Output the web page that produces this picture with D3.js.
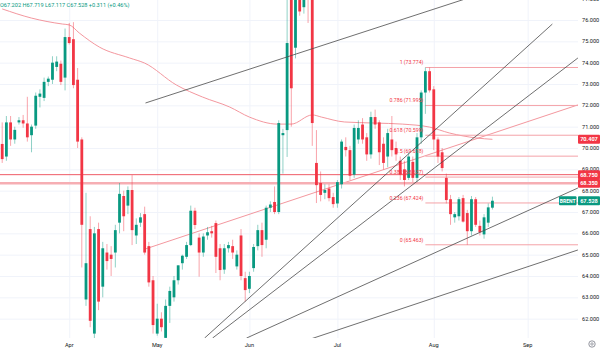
<!DOCTYPE html>
<html>
<head>
<meta charset="utf-8">
<script src="https://cdn.jsdelivr.net/npm/d3@7"></script>
<style>
  body { margin: 0; background: #fff; }
  svg { display: block; font-family: Roboto, "Noto Sans", sans-serif; }
</style>
</head>
<body>
<svg id="chart" width="600" height="352"></svg>
<script>
// daily OHLC, Brent, from the start of the visible window to the last bar
const opens = [70.19,69.6,71.2,70.4,71.2,71.3,71.15,70.6,71.05,72.4,72.35,73.1,73.2,73.8,73.95,73.3,75.2,75.1,73.2,70.4,
  62.9,66.2,61.3,66.2,63.5,65.1,65.0,65.1,66.5,67.75,67.3,68.03,65.9,66.5,66.9,65.4,63.8,61.3,62.0,61.1,
  62.6,63.0,63.8,64.6,64.9,65.45,67.06,65.8,65.1,65.9,66.1,66.48,65.3,64.3,65.3,65.4,64.45,65.9,63.9,63.4,
  64.37,65.4,66.15,65.7,67.2,67.47,67.0,70.6,70.84,77.2,74.7,78.3,76.6,78.8,78.5,69.3,68.36,67.9,68.1,67.7,
  67.4,68.3,70.05,69.9,68.75,70.4,71.1,70.5,69.7,71.45,71.2,70.2,69.6,70.4,70.0,69.4,69.0,68.6,69.35,68.6,
  70.5,72.6,73.6,72.75,70.4,69.8,68.6,67.6,66.75,66.8,67.65,66.95,66.1,67.6,66.35,65.95,66.5,67.202];
const highs = [71.2,71.5,71.5,71.0,71.45,71.55,72.4,71.1,72.6,72.75,73.3,73.35,74.3,74.3,74.1,75.6,75.86,75.9,73.75,70.5,
  67.9,66.8,66.3,66.5,65.6,65.5,65.4,66.4,68.36,68.0,68.2,68.73,66.7,66.95,67.25,65.6,64.0,62.7,62.3,62.9,
  63.5,64.0,64.5,65.0,65.6,67.3,67.2,66.0,66.0,66.3,66.35,66.6,65.5,65.5,65.6,65.7,65.2,66.2,64.2,64.2,
  65.5,66.4,66.5,67.3,67.5,68.2,71.3,70.9,78.0,78.2,78.3,79.0,79.2,80.0,80.5,70.84,68.9,68.3,68.3,67.9,
  68.5,70.4,70.5,70.1,71.1,71.3,71.4,70.7,71.7,71.8,71.3,70.5,70.9,71.5,70.3,69.6,69.4,69.8,69.6,70.7,
  72.7,73.774,73.77,72.9,70.5,70.0,68.8,67.8,67.0,67.7,67.8,67.1,67.75,67.7,66.6,66.9,67.4,67.719];
const lows = [69.3,69.4,70.1,70.2,71.1,70.95,70.3,69.8,70.9,71.9,72.2,72.9,73.0,73.6,72.95,72.7,74.85,72.8,70.0,64.4,
  62.6,61.6,61.0,62.4,63.0,64.3,64.0,64.4,66.0,66.1,66.9,65.45,65.5,66.3,65.0,63.5,61.3,61.2,61.4,61.0,
  61.8,62.8,63.6,64.3,64.8,65.4,66.2,63.97,64.9,65.7,65.8,64.14,63.8,64.1,65.1,64.8,64.3,63.8,62.8,63.2,
  64.2,65.2,64.9,65.3,67.0,66.9,66.9,68.8,69.58,71.0,74.2,76.2,76.3,75.86,70.1,67.42,67.5,67.6,67.5,67.2,
  67.2,68.1,69.6,68.5,68.6,70.2,70.2,69.4,69.5,70.9,69.2,69.0,69.1,69.6,69.4,68.5,68.2,68.5,68.4,68.4,
  70.2,71.6,72.6,69.9,69.3,68.9,67.4,66.4,66.5,66.6,66.5,65.463,65.9,66.3,65.9,65.75,66.3,67.117];
const closes = [69.48,71.2,70.4,70.85,71.3,71.15,70.5,71.0,72.45,72.55,73.1,73.25,74.0,74.05,73.1,75.2,74.92,72.95,70.3,66.4,
  64.6,61.9,66.0,62.8,65.3,64.7,64.8,66.15,67.85,66.8,68.03,66.15,66.4,66.75,65.1,63.7,61.7,62.0,61.6,62.6,
  63.3,63.8,64.5,64.95,65.45,67.06,66.39,65.1,65.85,66.05,66.0,64.9,64.28,65.3,65.45,65.1,65.0,64.0,63.34,64.0,
  65.36,66.15,65.45,67.2,67.35,67.0,71.17,70.7,74.92,72.8,77.6,76.4,78.3,78.5,71.17,68.26,67.8,68.03,67.65,67.37,
  68.4,70.3,69.9,68.7,70.94,70.94,70.4,69.7,71.45,71.1,69.8,69.3,70.7,69.9,69.7,68.75,68.5,69.6,68.6,70.5,
  72.6,73.6,72.7,70.4,69.6,69.06,67.56,66.9,66.9,67.6,66.55,66.1,67.6,66.4,66.05,66.75,67.217,67.528];

const priceTicks = [62,63,64,65,66,67,68,69,70,71,72,73,74,75,76,77];
const monthNames = ["Apr","May","Jun","Jul","Aug","Sep"];
const monthBars = [16, 37, 59, 80, 103, 125.4];

// moving average, read at a few bars
const maBars = [0, 7, 14.4, 16, 18.4, 23.2, 30.4, 34, 41.6, 47.8, 54.3, 59, 65.7, 69, 74, 76.2, 81.7, 88.9, 95.5, 102, 106.8, 113.2, 117];
const maVals = [76.52, 76.09, 75.81, 75.77, 75.39, 74.73, 74.22, 73.98, 72.95, 72.39, 71.92, 71.45, 71.12, 71.12, 71.55, 71.45, 71.22, 71.17, 71.12, 70.98, 70.70, 70.47, 70.407];

// horizontal levels
const levelVals = [68.75, 68.35];

// fibonacci retracement
const fibRatios = ["1", "0.786", "0.618", "0.5", "0.382", "0.236", "0"];
const fibVals = [73.774, 71.995, 70.599, 69.618, 68.637, 67.424, 65.463];
const fibStartBar = 101;

// trend lines: [bar, price, bar, price]
const grayLines = [
  [34.2, 72.11, 110.4, 76.98],
  [48.3, 61.09, 131.3, 75.81],
  [50.2, 61.09, 137.4, 74.22],
  [58.3, 61.09, 137.4, 68.125],
  [72.9, 61.0, 137.4, 65.22]
];
const pinkLines = [[34.2, 65.27, 137.4, 72.02]];

const last = {o: 67.202, h: 67.719, l: 67.117, c: 67.528, chg: "+0.311", pct: "(+0.46%)"};

const UP = "#089981", DOWN = "#f23645";
const W = 600, H = 352, plotR = 578, plotB = 338;

const svg = d3.select("#chart");
const x = d3.scaleLinear().domain([0, 117]).range([2.2, 2.2 + 117 * 4.19]);
const y = d3.scaleLinear().domain([62, 76]).range([318.67, 20]);

svg.append("rect").attr("width", W).attr("height", H).attr("fill", "#fff");
svg.append("defs").append("clipPath").attr("id", "plot")
  .append("rect").attr("x", 0).attr("y", 0).attr("width", plotR).attr("height", plotB);

// grid
const grid = svg.append("g").attr("clip-path", "url(#plot)");
grid.selectAll("line.h").data(priceTicks).enter().append("line")
  .attr("x1", 0).attr("x2", plotR)
  .attr("y1", d => y(d) + 0.5).attr("y2", d => y(d) + 0.5)
  .attr("stroke", "#f0f3fa").attr("stroke-width", 1);
grid.selectAll("line.v").data(monthBars).enter().append("line")
  .attr("x1", d => x(d) + 0.5).attr("x2", d => x(d) + 0.5)
  .attr("y1", 0).attr("y2", plotB)
  .attr("stroke", "#f0f3fa").attr("stroke-width", 1);

const plot = svg.append("g").attr("clip-path", "url(#plot)");

// moving average
plot.append("path")
  .datum(maBars.map((b, i) => [b, maVals[i]]))
  .attr("fill", "none").attr("stroke", "#f28b93").attr("stroke-width", 0.9)
  .attr("d", d3.line().curve(d3.curveMonotoneX).x(d => x(d[0])).y(d => y(d[1])));

// pink trend line
plot.selectAll("line.pink").data(pinkLines).enter().append("line")
  .attr("x1", d => x(d[0])).attr("y1", d => y(d[1]))
  .attr("x2", d => x(d[2])).attr("y2", d => y(d[3]))
  .attr("stroke", "#f28b93").attr("stroke-width", 0.9);

// fib lines
plot.selectAll("line.fib").data(fibVals).enter().append("line")
  .attr("x1", x(fibStartBar)).attr("x2", plotR)
  .attr("y1", d => y(d)).attr("y2", d => y(d))
  .attr("stroke", "#f4a2a8").attr("stroke-width", 1);

// horizontal levels
plot.append("line")
  .attr("x1", 0).attr("x2", plotR)
  .attr("y1", y(levelVals[1])).attr("y2", y(levelVals[1]))
  .attr("stroke", "#f6aeb3").attr("stroke-width", 2.6);
plot.append("line")
  .attr("x1", 0).attr("x2", plotR)
  .attr("y1", y(levelVals[0])).attr("y2", y(levelVals[0]))
  .attr("stroke", "#ef5b67").attr("stroke-width", 1);

// candles
const bars = opens.map((o, i) => ({i, o, h: highs[i], l: lows[i], c: closes[i]}));
const cg = plot.selectAll("g.candle").data(bars).enter().append("g");
cg.append("line")
  .attr("x1", d => x(d.i)).attr("x2", d => x(d.i))
  .attr("y1", d => y(d.h)).attr("y2", d => y(d.l))
  .attr("stroke", d => d.c >= d.o ? UP : DOWN)
  .attr("stroke-opacity", 0.45).attr("stroke-width", 1);
cg.append("rect")
  .attr("x", d => x(d.i) - 1.4).attr("width", 2.8)
  .attr("y", d => y(Math.max(d.o, d.c)))
  .attr("height", d => Math.max(0.8, Math.abs(y(d.o) - y(d.c))))
  .attr("fill", d => d.c >= d.o ? UP : DOWN);

// gray trend lines
plot.selectAll("line.gray").data(grayLines).enter().append("line")
  .attr("x1", d => x(d[0])).attr("y1", d => y(d[1]))
  .attr("x2", d => x(d[2])).attr("y2", d => y(d[3]))
  .attr("stroke", "#4a4a4a").attr("stroke-width", 0.8);

// fib labels
svg.selectAll("text.fib").data(fibVals).enter().append("text")
  .attr("x", x(fibStartBar) - 2).attr("y", d => y(d) - 3)
  .attr("text-anchor", "end").attr("font-size", 5.2).attr("fill", "#f23645")
  .text((d, i) => `${fibRatios[i]} (${d.toFixed(3)})`);

// price axis labels
svg.selectAll("text.py").data(priceTicks).enter().append("text")
  .attr("x", 582).attr("y", d => y(d) + 2)
  .attr("font-size", 5.6).attr("fill", "#131722")
  .text(d => d.toFixed(3));

// month labels
svg.selectAll("text.mx").data(monthBars).enter().append("text")
  .attr("x", d => x(d)).attr("y", 347)
  .attr("text-anchor", "middle").attr("font-size", 5.6).attr("fill", "#131722")
  .text((d, i) => monthNames[i]);

// price tags
function tag(val, fill, label) {
  const yy = y(val);
  svg.append("rect").attr("x", 578).attr("y", yy - 4.5).attr("width", 22).attr("height", 9)
    .attr("fill", fill).attr("rx", 1);
  svg.append("text").attr("x", 589).attr("y", yy + 2).attr("text-anchor", "middle")
    .attr("font-size", 5.6).attr("font-weight", "bold").attr("fill", "#fff").text(label);
}
tag(maVals[maVals.length - 1], DOWN, maVals[maVals.length - 1].toFixed(3));
tag(levelVals[0], DOWN, levelVals[0].toFixed(3));
tag(levelVals[1], DOWN, levelVals[1].toFixed(3));
tag(last.c, UP, last.c.toFixed(3));
svg.append("rect").attr("x", 559).attr("y", y(last.c) - 4.5).attr("width", 17.5).attr("height", 9)
  .attr("fill", UP).attr("rx", 1);
svg.append("text").attr("x", 567.7).attr("y", y(last.c) + 2).attr("text-anchor", "middle")
  .attr("font-size", 5).attr("font-weight", "bold").attr("fill", "#fff").text("BRENT");

// header legend
svg.append("text").attr("x", 0).attr("y", 7).attr("font-size", 5.6).attr("fill", UP)
  .text(`O${last.o.toFixed(3)} H${last.h.toFixed(3)} L${last.l.toFixed(3)} C${last.c.toFixed(3)} ${last.chg} ${last.pct}`);

// settings icon
const ic = svg.append("g").attr("transform", "translate(592,344)");
ic.append("circle").attr("r", 3.2).attr("fill", "none").attr("stroke", "#787b86").attr("stroke-width", 0.8);
ic.append("circle").attr("r", 1.2).attr("fill", "none").attr("stroke", "#787b86").attr("stroke-width", 0.7);
</script>
</body>
</html>
